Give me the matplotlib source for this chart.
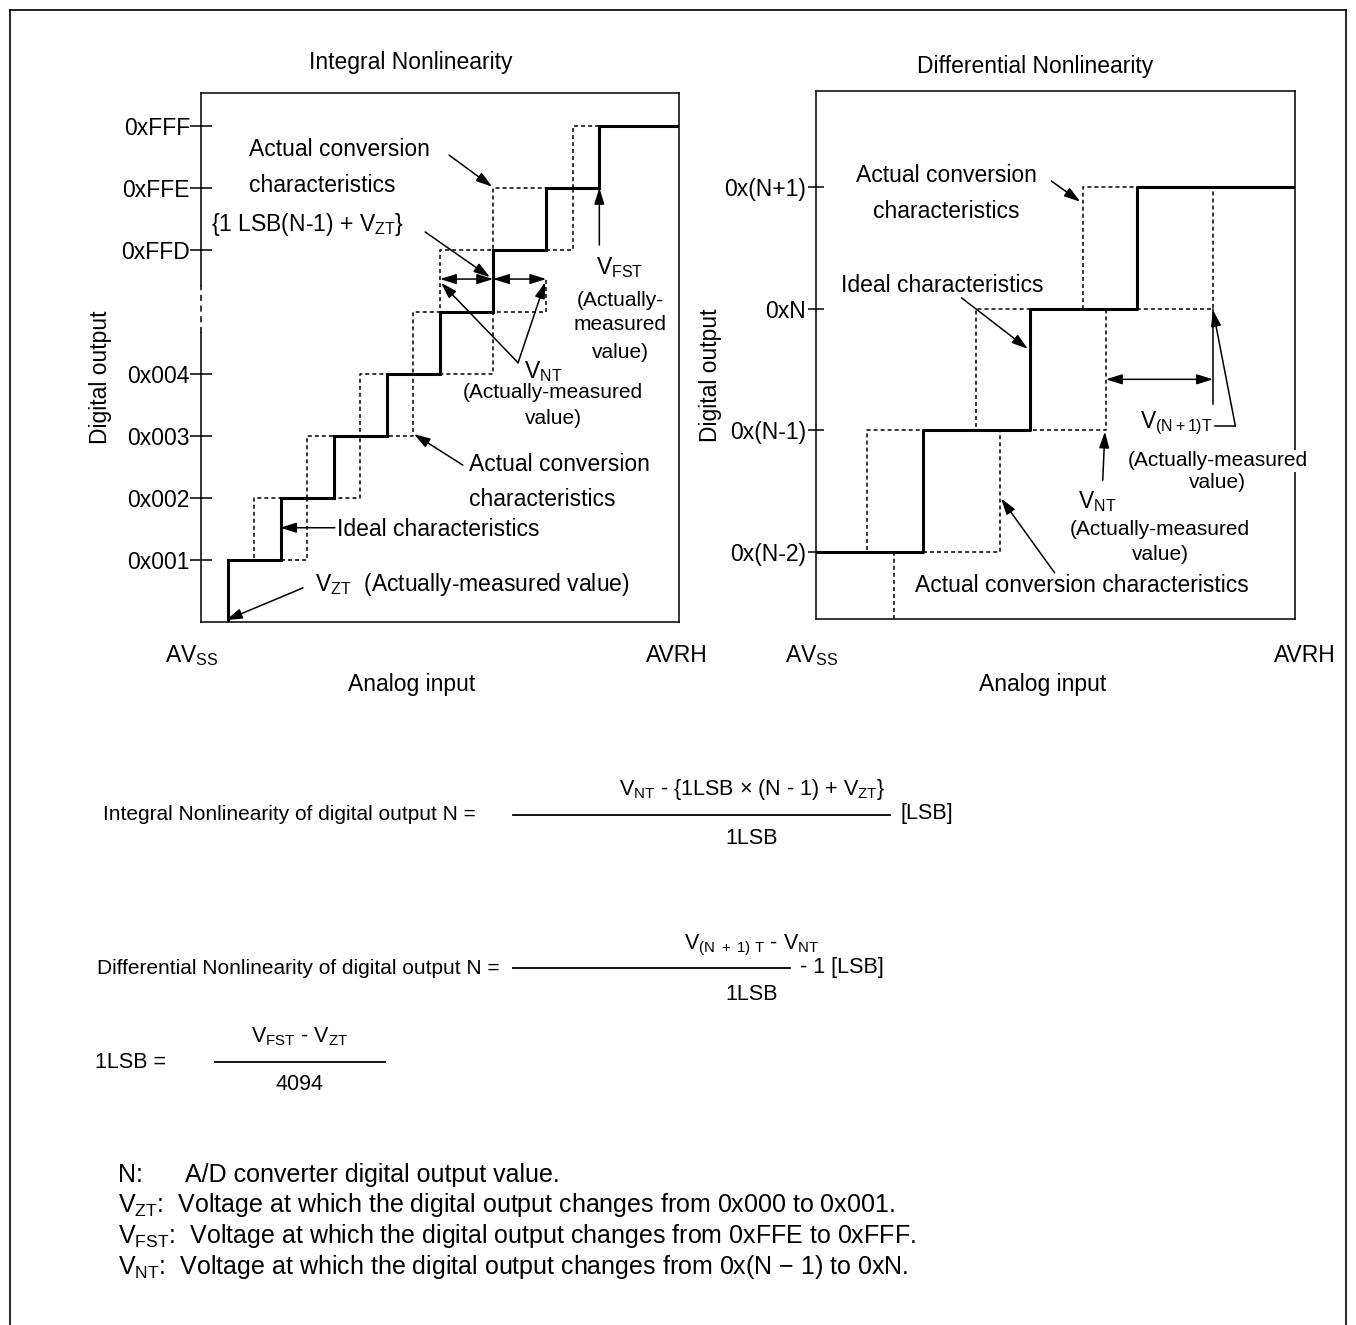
import matplotlib
matplotlib.use('Agg')
import matplotlib.pyplot as plt
from matplotlib.lines import Line2D

plt.rcParams['font.family'] = ['Liberation Sans', 'DejaVu Sans']
plt.rcParams['mathtext.fontset'] = 'custom'
plt.rcParams['mathtext.rm'] = 'Liberation Sans'
plt.rcParams['mathtext.it'] = 'Liberation Sans:italic'
plt.rcParams['mathtext.bf'] = 'Liberation Sans:bold'

W, H = 1356, 1325

# integral nonlinearity panel: x in LSB, y in output-code steps
inl_ticks = [1, 2, 3, 4, 6, 7, 8]
inl_ticklabels = ['0x001', '0x002', '0x003', '0x004', '0xFFD', '0xFFE', '0xFFF']
inl_ideal_levels = [0, 1, 2, 3, 4, 5, 6, 7, 8]
inl_ideal_steps = [0.5, 1.5, 2.5, 3.5, 4.5, 5.5, 6.5, 7.5]
inl_early_levels = [1, 2, 3, 4, 5, 6, 7, 8]
inl_early_steps = [1.0, 2.0, 3.0, 4.0, 4.5, 5.5, 7.0]
inl_late_levels = [1, 2, 3, 4, 5]
inl_late_steps = [2.0, 3.0, 4.0, 5.5]
inl_late2_levels = [6, 7]
inl_late2_steps = [7.0]
inl_vnt = [4.5, 5.5, 6.5]
inl_arrow_level = 5.53

# differential nonlinearity panel
dnl_ticks = [0, 1, 2, 3]
dnl_ticklabels = ['0x(N-2)', '0x(N-1)', '0xN', '0x(N+1)']
dnl_ideal_levels = [0, 1, 2, 3]
dnl_ideal_steps = [1.0, 2.0, 3.0]
dnl_early_steps = [0.48, 1.5, 2.5]
dnl_late_steps = [1.72, 2.71, 3.71]
dnl_prev_step = 0.73
dnl_arrow_level = 1.42

LW_BOLD = 2.2
LW_THIN = 1.1
DASH = (0, (2.6, 2.0))


def staircase(ax, x_start, steps, levels, x_end, **kw):
    xs = [x_start] + list(steps) + [x_end]
    ys = list(levels) + [levels[-1]]
    ax.plot(xs, ys, drawstyle='steps-post', color='k', **kw)


def arrow(ax, tail, tip, style='-|>'):
    ax.annotate('', xy=tip, xytext=tail, annotation_clip=False,
                arrowprops=dict(arrowstyle=style + ',head_length=0.7,head_width=0.22',
                                mutation_scale=14, lw=LW_THIN, color='k',
                                shrinkA=0, shrinkB=0))


fig = plt.figure(figsize=(W / 100, H / 100), dpi=100)


def ftext(x, y, s, size=16.5, ha='left', **kw):
    return fig.text(x / W, 1 - y / H, s, fontsize=size, ha=ha, va='center', **kw)


def fline(x1, x2, y1, y2, lw=1.3):
    fig.add_artist(Line2D([x1 / W, x2 / W], [1 - y1 / H, 1 - y2 / H],
                          transform=fig.transFigure, color='k', lw=lw))


# outer frame
fline(10, 1346, 10, 10, lw=1.2)
fline(10, 10, 10, 1330, lw=1.2)
fline(1346, 1346, 10, 1330, lw=1.2)

# ---------------- Integral nonlinearity ----------------
ax1 = fig.add_axes([201 / W, 1 - 622 / H, 478 / W, 529 / H])
ax1.set_xlim(0, 9.0)
ax1.set_ylim(0, 8.53)
staircase(ax1, 0.5, inl_early_steps, inl_early_levels, 7.5, lw=LW_THIN, ls=DASH)
staircase(ax1, 1.5, inl_late_steps, inl_late_levels, inl_vnt[2], lw=LW_THIN, ls=DASH)
ax1.plot([inl_vnt[2]] * 2, [inl_late_levels[-1], inl_arrow_level], color='k', lw=LW_THIN, ls=DASH)
staircase(ax1, inl_vnt[2], inl_late2_steps, inl_late2_levels, 7.5, lw=LW_THIN, ls=DASH)
staircase(ax1, inl_ideal_steps[0], inl_ideal_steps, inl_ideal_levels, 9.0, lw=LW_BOLD,
          solid_joinstyle='miter')

for s in ax1.spines.values():
    s.set_linewidth(LW_THIN)
ax1.spines['left'].set_visible(False)
ax1.plot([0, 0], [0, 4.66], color='k', lw=LW_THIN, clip_on=False)
ax1.plot([0, 0], [4.66, 5.44], color='k', lw=LW_THIN, ls=(0, (4, 3)), clip_on=False)
ax1.plot([0, 0], [5.44, 8.53], color='k', lw=LW_THIN, clip_on=False)
ax1.set_xticks([])
ax1.set_yticks(inl_ticks, inl_ticklabels)
ax1.tick_params(axis='y', direction='inout', length=16, width=LW_THIN, labelsize=16.5, pad=0)

arrow(ax1, (inl_vnt[1], inl_arrow_level), (inl_vnt[0], inl_arrow_level), '<|-|>')
arrow(ax1, (inl_vnt[1], inl_arrow_level), (inl_vnt[2], inl_arrow_level), '<|-|>')
arrow(ax1, (5.97, 4.18), (4.52, 5.47))
arrow(ax1, (5.97, 4.18), (6.48, 5.48))
arrow(ax1, (4.67, 7.53), (5.48, 7.02))
arrow(ax1, (4.22, 6.29), (5.44, 5.56))
arrow(ax1, (7.5, 6.08), (7.5, 7.0))
arrow(ax1, (4.93, 2.53), (4.01, 3.03))
arrow(ax1, (2.52, 1.52), (1.49, 1.52))
arrow(ax1, (1.92, 0.55), (0.47, 0.03))

ftext(411, 62, 'Integral Nonlinearity', ha='center')
ftext(100, 377, 'Digital output', ha='center', rotation=90)
ftext(192, 656, r'AV$_{\mathrm{SS}}$', ha='center')
ftext(677, 656, 'AVRH', ha='center')
ftext(412, 685, 'Analog input', ha='center')
ftext(249, 150, 'Actual conversion')
ftext(249, 185, 'characteristics')
ftext(211, 224, r'{1 LSB(N-1) + V$_{\mathrm{ZT}}$}')
ftext(620, 268, r'V$_{\mathrm{FST}}$', ha='center')
ftext(620, 300, '(Actually-', ha='center', size=15)
ftext(620, 325, 'measured', ha='center', size=15)
ftext(620, 353, 'value)', ha='center', size=15)
ftext(543, 372, r'V$_{\mathrm{NT}}$', ha='center')
ftext(553, 393, '(Actually-measured', ha='center', size=15)
ftext(553, 418, 'value)', ha='center', size=15)
ftext(469, 465, 'Actual conversion')
ftext(469, 500, 'characteristics')
ftext(337, 529, 'Ideal characteristics')
ftext(315, 584, r'V$_{\mathrm{ZT}}$  (Actually-measured value)')

# ---------------- Differential nonlinearity ----------------
ax2 = fig.add_axes([816 / W, 1 - 619 / H, 479 / W, 528 / H])
ax2.set_xlim(0, 4.477)
ax2.set_ylim(-0.55, 3.79)
staircase(ax2, 0.3, dnl_early_steps, dnl_ideal_levels, dnl_ideal_steps[-1], lw=LW_THIN, ls=DASH)
staircase(ax2, dnl_ideal_steps[0], dnl_late_steps, dnl_ideal_levels, 3.8, lw=LW_THIN, ls=DASH)
ax2.plot([dnl_prev_step] * 2, [-0.55, dnl_ideal_levels[0]], color='k', lw=LW_THIN, ls=DASH)
staircase(ax2, 0, dnl_ideal_steps, dnl_ideal_levels, 4.477, lw=LW_BOLD)

for s in ax2.spines.values():
    s.set_linewidth(LW_THIN)
ax2.set_xticks([])
ax2.set_yticks(dnl_ticks, dnl_ticklabels)
ax2.tick_params(axis='y', direction='inout', length=12, width=LW_THIN, labelsize=16.5, pad=1)

arrow(ax2, (dnl_late_steps[1], dnl_arrow_level), (dnl_late_steps[2], dnl_arrow_level), '<|-|>')
ax2.plot([dnl_late_steps[2]] * 2, [1.22, 2.0], color='k', lw=LW_THIN)
arrow(ax2, (3.92, 1.035), (dnl_late_steps[2], 1.99))
ax2.plot([3.73, 3.92], [1.035, 1.035], color='k', lw=LW_THIN, clip_on=False)
arrow(ax2, (2.68, 0.59), (2.70, 0.99))
arrow(ax2, (2.20, 3.05), (2.47, 2.88))
arrow(ax2, (1.36, 2.09), (1.98, 1.67))
arrow(ax2, (2.23, -0.17), (1.73, 0.44))

ftext(1035, 66, 'Differential Nonlinearity', ha='center')
ftext(710, 375, 'Digital output', ha='center', rotation=90)
ftext(812, 656, r'AV$_{\mathrm{SS}}$', ha='center')
ftext(1305, 656, 'AVRH', ha='center')
ftext(1043, 685, 'Analog input', ha='center')
ftext(946, 176, 'Actual conversion', ha='center')
ftext(946, 211, 'characteristics', ha='center')
ftext(841, 286, 'Ideal characteristics')
ftext(1140, 423, r'V$_{\mathrm{(N+1)T}}$')
ftext(1218, 461, '(Actually-measured', ha='center', size=15,
      bbox=dict(facecolor='white', edgecolor='none', pad=1))
ftext(1217, 483, 'value)', ha='center', size=15,
      bbox=dict(facecolor='white', edgecolor='none', pad=1))
ftext(1097, 502, r'V$_{\mathrm{NT}}$', ha='center')
ftext(1160, 529, '(Actually-measured', ha='center', size=15)
ftext(1160, 555, 'value)', ha='center', size=15)
ftext(915, 586, 'Actual conversion characteristics')

# ---------------- formulas ----------------
FS = 15
FS2 = 15.5
ftext(103, 814, 'Integral Nonlinearity of digital output N =', size=FS)
ftext(752, 790, r'V$_{\mathrm{NT}}$ - {1LSB × (N - 1) + V$_{\mathrm{ZT}}$}', ha='center', size=FS2)
fline(513, 890, 815, 815)
ftext(752, 838, '1LSB', ha='center', size=FS2)
ftext(900, 814, '[LSB]', size=FS2)

ftext(97, 968, 'Differential Nonlinearity of digital output N =', size=FS)
ftext(752, 945, r'V$_{\mathrm{(N\ +\ 1)\ T}}$ - V$_{\mathrm{NT}}$', ha='center', size=FS2)
fline(513, 790, 968, 968)
ftext(752, 994, '1LSB', ha='center', size=FS2)
ftext(800, 968, '- 1 [LSB]', size=FS2)

ftext(95, 1062, '1LSB =', size=FS2)
ftext(300, 1037, r'V$_{\mathrm{FST}}$ - V$_{\mathrm{ZT}}$', ha='center', size=FS2)
fline(215, 385, 1062, 1062)
ftext(300, 1085, '4094', ha='center', size=FS2)

FN = 18
ftext(118, 1175, 'N:', size=FN)
ftext(185, 1175, 'A/D converter digital output value.', size=FN)
ftext(118, 1205, r'V$_{\mathrm{ZT}}$:  Voltage at which the digital output changes from 0x000 to 0x001.', size=FN)
ftext(118, 1236, r'V$_{\mathrm{FST}}$:  Voltage at which the digital output changes from 0xFFE to 0xFFF.', size=FN)
ftext(118, 1267, r'V$_{\mathrm{NT}}$:  Voltage at which the digital output changes from 0x(N − 1) to 0xN.', size=FN)

fig.savefig('out.png', dpi=100)
